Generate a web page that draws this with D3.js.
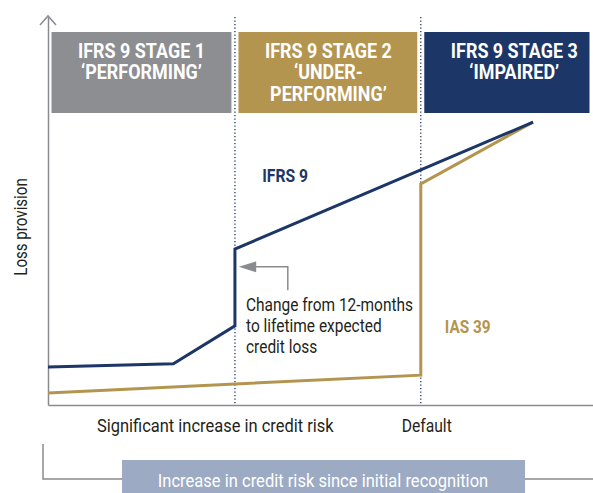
<!DOCTYPE html>
<html>
<head>
<meta charset="utf-8">
<script src="https://cdn.jsdelivr.net/npm/d3@7"></script>
<style>
body { margin: 0; background: #fff; }
svg text { font-family: "Roboto", "Liberation Sans", sans-serif; }
</style>
</head>
<body>
<div id="chart"></div>
<script>
// stages along the credit risk axis (0-100)
const stageLabels = [
	["IFRS 9 STAGE 1", "\u2018PERFORMING\u2019"],
	["IFRS 9 STAGE 2", "\u2018UNDER-", "PERFORMING\u2019"],
	["IFRS 9 STAGE 3", "\u2018IMPAIRED\u2019"]
];
const stageBounds = [0, 34.3, 68.4, 100];
const stageColors = ["#8d8e92", "#b4954f", "#1c3668"];

// loss provision curves (risk, provision)
const ifrs9Risk = [0, 23, 34.3, 34.3, 89];
const ifrs9Loss = [9.8, 10.6, 20.4, 40.2, 72.9];
const ias39Risk = [0, 68.4, 68.4, 89];
const ias39Loss = [3.1, 7.7, 57, 72.9];

const tickLabels = ["Significant increase in credit risk", "Default"];
const tickRisk = [30.6, 69.4];

const noteLines = ["Change from 12-months", "to lifetime expected", "credit loss"];

const W = 593, H = 493;
const navy = "#1c3668", gold = "#b4954f", grey = "#8a8b8e", ink = "#231f20";

const svg = d3.select("#chart").append("svg")
	.attr("width", W)
	.attr("height", H);

const x = d3.scaleLinear().domain([0, 100]).range([48, 593]);
const y = d3.scaleLinear().domain([0, 100]).range([405, 17]);

// stage boxes (nominal width 180, last one runs off the edge)
const pad = 3.5;
const boxLeft = i => x(stageBounds[i]) + pad;
const boxRight = i => Math.min(x(stageBounds[i + 1]) - pad, W);

svg.append("g").selectAll("rect")
	.data(stageLabels).enter()
	.append("rect")
	.attr("x", (d, i) => boxLeft(i))
	.attr("width", (d, i) => boxRight(i) - boxLeft(i))
	.attr("y", 32)
	.attr("height", 81)
	.attr("fill", (d, i) => stageColors[i]);

svg.append("g").selectAll("text")
	.data(stageLabels).enter()
	.append("text")
	.attr("transform", (d, i) => `translate(${boxLeft(i) + 90},0) scale(0.92,1)`)
	.attr("text-anchor", "middle")
	.attr("fill", "#fff")
	.attr("font-weight", "bold")
	.attr("font-size", 19.5)
	.selectAll("tspan")
	.data(d => d).enter()
	.append("tspan")
	.attr("x", 0)
	.attr("y", (d, j) => 58 + j * 21.5)
	.text(d => d);

// dotted stage dividers
svg.append("g").selectAll("line")
	.data(stageBounds.slice(1, 3)).enter()
	.append("line")
	.attr("x1", d => x(d)).attr("x2", d => x(d))
	.attr("y1", 17).attr("y2", 405)
	.attr("stroke", navy)
	.attr("stroke-width", 1.3)
	.attr("stroke-dasharray", "1.3,2.2");

// axes
const xAxis = svg.append("g")
	.attr("transform", `translate(0,${y(0)})`)
	.call(d3.axisBottom(x).tickValues(tickRisk).tickFormat((d, i) => tickLabels[i]).tickSize(0).tickPadding(14));
xAxis.select(".domain").attr("stroke", grey).attr("stroke-width", 1.5);
xAxis.selectAll("text")
	.attr("font-family", null)
	.attr("font-size", 18)
	.attr("fill", ink)
	.attr("transform", (d, i) => `scale(${i === 0 ? 0.915 : 0.87},1)`);

const yAxis = svg.append("g")
	.attr("transform", `translate(${x(0)},0)`)
	.call(d3.axisLeft(y).tickValues([]).tickSizeOuter(0));
yAxis.select(".domain").attr("stroke", grey).attr("stroke-width", 1.5);

svg.append("path")
	.attr("d", `M${x(0) - 8},${y(100) + 8}L${x(0)},${y(100) - 1}L${x(0) + 8},${y(100) + 8}`)
	.attr("fill", "none")
	.attr("stroke", grey)
	.attr("stroke-width", 1.5);

svg.append("text")
	.attr("transform", `translate(27,227) rotate(-90) scale(0.84,1)`)
	.attr("text-anchor", "middle")
	.attr("font-size", 18)
	.attr("fill", ink)
	.text("Loss provision");

// curves
const line = d3.line().x(d => x(d[0])).y(d => y(d[1]));

svg.append("path")
	.datum(d3.zip(ias39Risk, ias39Loss))
	.attr("d", line)
	.attr("fill", "none")
	.attr("stroke", gold)
	.attr("stroke-width", 3);

svg.append("path")
	.datum(d3.zip(ifrs9Risk, ifrs9Loss))
	.attr("d", line)
	.attr("fill", "none")
	.attr("stroke", navy)
	.attr("stroke-width", 3);

svg.append("text")
	.attr("transform", `translate(${x(39.3)},${y(57.5)}) scale(0.85,1)`)
	.attr("font-weight", "bold").attr("font-size", 18.5)
	.attr("fill", navy)
	.text("IFRS 9");

svg.append("text")
	.attr("transform", `translate(${x(72.8)},${y(18.5)}) scale(0.83,1)`)
	.attr("font-weight", "bold").attr("font-size", 18.5)
	.attr("fill", gold)
	.text("IAS 39");

// annotation arrow
svg.append("path")
	.attr("d", `M${x(44)},${y(29.6)}V${y(35.6)}H${x(38)}`)
	.attr("fill", "none")
	.attr("stroke", grey)
	.attr("stroke-width", 1.5);
svg.append("path")
	.attr("d", `M${x(35)},${y(35.6)}L${x(38.2)},${y(35.6) - 5.5}V${y(35.6) + 5.5}Z`)
	.attr("fill", grey);

svg.append("text")
	.attr("transform", `translate(246,0) scale(0.86,1)`)
	.attr("font-size", 18)
	.attr("fill", ink)
	.selectAll("tspan")
	.data(noteLines).enter()
	.append("tspan")
	.attr("x", 0)
	.attr("y", (d, i) => 311 + i * 21)
	.text(d => d);

// bottom bracket
svg.append("path")
	.attr("d", "M43,444V479H122M525,479H593")
	.attr("fill", "none")
	.attr("stroke", grey)
	.attr("stroke-width", 1.5);
svg.append("rect")
	.attr("x", 122).attr("y", 460)
	.attr("width", 403).attr("height", 33)
	.attr("fill", "#9caac3");
svg.append("text")
	.attr("transform", `translate(323,487) scale(0.92,1)`)
	.attr("text-anchor", "middle")
	.attr("font-size", 18)
	.attr("fill", "#fff")
	.text("Increase in credit risk since initial recognition");
</script>
</body>
</html>
